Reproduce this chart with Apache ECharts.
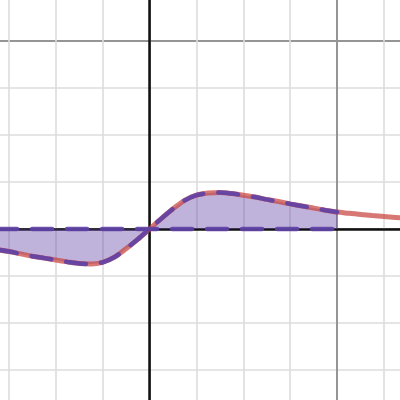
<!DOCTYPE html>
<html><head><meta charset="utf-8">
<script src="https://cdn.jsdelivr.net/npm/echarts@6/dist/echarts.min.js"></script>
<style>html,body{margin:0;padding:0;background:#fff}#c{width:400px;height:400px}</style>
</head><body><div id="c"></div>
<script>
// curve samples
const xs = [-3.25, -3, -2.75, -2.5, -2.25, -2, -1.75, -1.5, -1.25, -1, -0.75, -0.5, -0.25, 0,
            0.25, 0.5, 0.75, 1, 1.25, 1.5, 1.75, 2, 2.25, 2.5, 2.75, 3, 3.25, 3.5, 3.75, 4,
            4.25, 4.5, 4.75, 5, 5.25, 5.5];
const ys = [-0.44, -0.48, -0.53, -0.58, -0.62, -0.66, -0.70, -0.735, -0.745, -0.71, -0.60, -0.42, -0.22, 0,
            0.22, 0.43, 0.61, 0.72, 0.765, 0.775, 0.755, 0.72, 0.68, 0.63, 0.585, 0.535, 0.49, 0.445, 0.40, 0.36,
            0.335, 0.31, 0.285, 0.265, 0.245, 0.225];
const fillEnd = 4;
const baseLine = [[-3.25, 0], [4, 0]];

const curve = xs.map((x, i) => [x, ys[i]]);
const part = curve.filter(p => p[0] <= fillEnd);

const ux = 46.9, uy = 47, ox = 149.5, oy = 229;
const xMin = -4, xMax = 6, yMin = -4, yMax = 5;
const grid = {
  left: ox + xMin * ux, top: oy - yMax * uy,
  width: (xMax - xMin) * ux, height: (yMax - yMin) * uy,
  outerBoundsMode: 'none', containLabel: false
};
const hidden = {show: false};
function ax(min, max, interval, color, width, axisLine) {
  return {
    type: 'value', min, max, interval,
    axisLabel: hidden, axisTick: hidden,
    axisLine: axisLine ? {show: true, onZero: true, lineStyle: {color: '#111', width: 2.5}} : hidden,
    splitLine: {show: true, lineStyle: {color, width}}
  };
}
const chart = echarts.init(document.getElementById('c'));
chart.setOption({
  animation: false,
  grid: [grid],
  xAxis: [ax(xMin, xMax, 1, '#dcdcdc', 1.6, true), ax(xMin, xMax, 4, '#959595', 2, false)],
  yAxis: [ax(yMin, yMax, 1, '#dcdcdc', 1.6, true), ax(yMin, yMax, 4, '#959595', 2, false)],
  series: [
    {type: 'line', data: part, smooth: 0.3, symbol: 'none', lineStyle: {width: 0},
     areaStyle: {color: 'rgba(96,66,166,0.4)', opacity: 1, origin: 0}, z: 2},
    {type: 'line', data: curve, smooth: 0.3, symbol: 'none',
     lineStyle: {color: 'rgba(199,68,64,0.72)', width: 5}, z: 3},
    {type: 'line', data: part, smooth: 0.3, symbol: 'none',
     lineStyle: {color: 'rgba(96,66,166,0.92)', width: 4.5, type: [20, 15], cap: 'round'}, z: 4},
    {type: 'line', data: baseLine, symbol: 'none',
     lineStyle: {color: 'rgba(96,66,166,0.92)', width: 4.5, type: [20, 15], cap: 'round'}, z: 4}
  ]
});
</script></body></html>
